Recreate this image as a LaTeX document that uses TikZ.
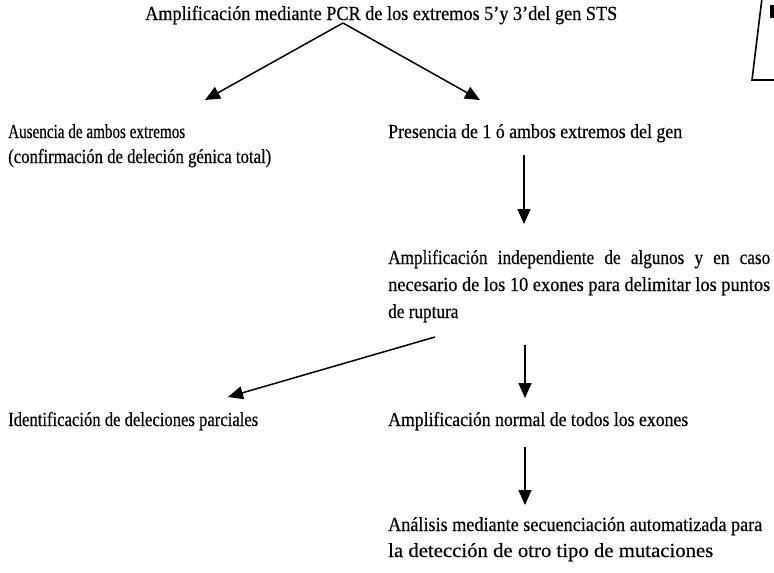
\documentclass[tikz,border=0pt]{standalone}
\usepackage{fontspec}
\usepackage{graphicx}
\setmainfont[FakeStretch=0.86,FakeBold=0.4]{Liberation Serif}
\usetikzlibrary{arrows.meta}
\newcommand{\fitw}[2]{\resizebox{#1}{\height}{#2}}
\begin{document}
\begin{tikzpicture}[x=1pt,y=-1pt,
  txt/.style={inner sep=0pt,anchor=base west,font=\fontsize{20}{25}\selectfont},
  arr/.style={line width=1.5pt,-{Triangle[length=15pt,width=13pt]}}]
\useasboundingbox (0,0) rectangle (774,573);
% partial frame at top right
\draw[line width=1.6pt] (762,-2) -- (752,80) -- (776,80);
\fill (770,5) rectangle (774,18);
% texts
\node[txt] (top) at (145,20) {\fitw{472pt}{Amplificación mediante PCR de los extremos 5’y 3’del gen STS}};
\node[txt] (aus) at (8,138) {\fitw{177pt}{Ausencia de ambos extremos}};
\node[txt] (aus2) at (8,163) {\fitw{263pt}{(confirmación de deleción génica total)}};
\node[txt] (pres) at (388,138) {\fitw{294pt}{Presencia de 1 ó ambos extremos del gen}};
\node[txt] (ind1) at (388,264) {\makebox[382pt][s]{Amplificación independiente de algunos y en caso}};
\node[txt] (ind2) at (388,291) {\fitw{382pt}{necesario de los 10 exones para delimitar los puntos}};
\node[txt] (ind3) at (388,318) {de ruptura};
\node[txt] (idn) at (8,426) {\fitw{250pt}{Identificación de deleciones parciales}};
\node[txt] (norm) at (388,426) {\fitw{300pt}{Amplificación normal de todos los exones}};
\node[txt] (ana) at (388,531) {\fitw{374pt}{Análisis mediante secuenciación automatizada para}};
\node[txt] (ana2) at (388,557) {\fitw{325pt}{la detección de otro tipo de mutaciones}};
% connector ends
\coordinate (apex) at (343,23);
\coordinate (t1) at (205,100);
\coordinate (t2) at (480,100);
\coordinate (s3) at (524,155);
\coordinate (t3) at (524,224);
\coordinate (s4) at (435,337);
\coordinate (t4) at (228,397);
\coordinate (s5) at (525,345);
\coordinate (t5) at (525,398);
\coordinate (s6) at (525,447);
\coordinate (t6) at (525,505);
\draw[arr] (apex) -- (t1);
\draw[arr] (apex) -- (t2);
\draw[arr] (s3) -- (t3);
\draw[arr] (s4) -- (t4);
\draw[arr] (s5) -- (t5);
\draw[arr] (s6) -- (t6);
\end{tikzpicture}
\end{document}
